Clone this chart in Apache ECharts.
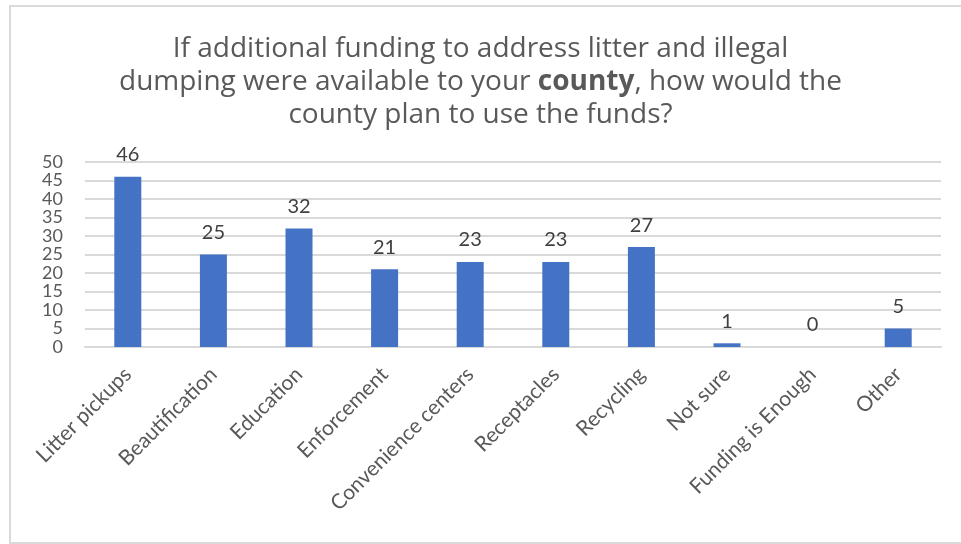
<!DOCTYPE html>
<html>
<head>
<meta charset="utf-8">
<script src="https://cdn.jsdelivr.net/npm/echarts@6/dist/echarts.min.js"></script>
<style>
  html, body { margin: 0; padding: 0; background: #ffffff; }
  #chart { width: 961px; height: 544px; }
</style>
</head>
<body>
<div id="chart"></div>
<script>
// Survey responses: planned uses for additional litter / illegal dumping funds
const categories = [
  'Litter pickups', 'Beautification', 'Education', 'Enforcement',
  'Convenience centers', 'Receptacles', 'Recycling', 'Not sure',
  'Funding is Enough', 'Other'
];
const responses = [46, 25, 32, 21, 23, 23, 27, 1, 0, 5];
const yTicks = [0, 5, 10, 15, 20, 25, 30, 35, 40, 45, 50];

const textColor = '#595959';
const gridColor = '#d9d9d9';
const font = 'Lato, "Open Sans", sans-serif';
const titleFont = '"Open Sans", "Noto Sans", sans-serif';

const chart = echarts.init(document.getElementById('chart'), null, { renderer: 'canvas' });

chart.setOption({
  animation: false,
  backgroundColor: '#ffffff',
  graphic: [{
    type: 'rect',
    shape: { x: 10, y: 6, width: 1000, height: 537 },
    style: { fill: 'none', stroke: gridColor, lineWidth: 2 },
    silent: true,
    z: -1
  }],
  title: {
    text: 'If additional funding to address litter and illegal\n' +
          'dumping were available to your {b|county}, how would the\n' +
          'county plan to use the funds?',
    left: 'center',
    top: 28,
    textStyle: {
      fontFamily: titleFont,
      fontSize: 28,
      fontWeight: 'normal',
      color: textColor,
      lineHeight: 33,
      rich: {
        b: {
          fontFamily: titleFont,
          fontSize: 28,
          fontWeight: 'bold',
          color: textColor,
          lineHeight: 33
        }
      }
    }
  },
  grid: { left: 85, right: 20, top: 162, bottom: 197, containLabel: false },
  xAxis: {
    type: 'category',
    data: categories,
    axisLine: { lineStyle: { color: gridColor, width: 2 } },
    axisTick: { show: false },
    axisLabel: {
      rotate: 45,
      interval: 0,
      margin: 24,
      fontFamily: font,
      fontSize: 21,
      color: textColor
    }
  },
  yAxis: {
    type: 'value',
    min: yTicks[0],
    max: yTicks[yTicks.length - 1],
    interval: 5,
    axisLine: { show: false },
    axisTick: { show: false },
    splitLine: { lineStyle: { color: gridColor, width: 2 } },
    axisLabel: {
      margin: 22,
      showMinLabel: true,
      showMaxLabel: true,
      hideOverlap: false,
      fontFamily: font,
      fontSize: 18,
      color: textColor
    }
  },
  series: [{
    type: 'bar',
    data: responses,
    barWidth: 27,
    itemStyle: { color: '#4472c4' },
    label: {
      show: true,
      position: 'top',
      distance: 12,
      fontFamily: font,
      fontSize: 20,
      color: '#404040'
    }
  }]
});
</script>
</body>
</html>
